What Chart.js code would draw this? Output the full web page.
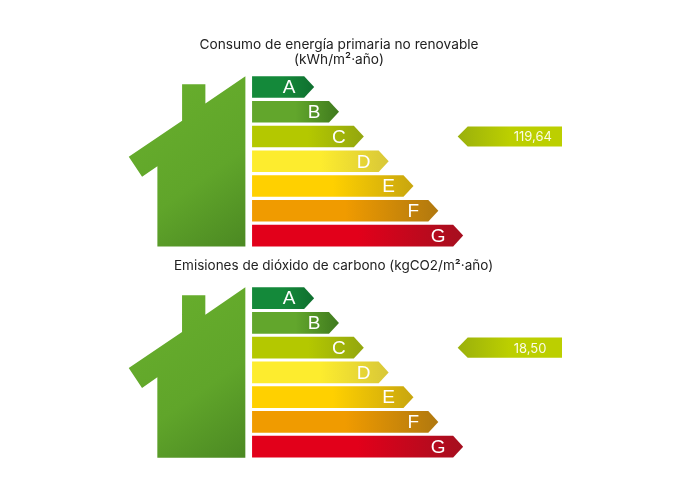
<!DOCTYPE html>
<html>
<head>
<meta charset="utf-8">
<title>Certificado energético</title>
<script src="https://cdn.jsdelivr.net/npm/chart.js@4/dist/chart.umd.min.js"></script>
<style>
	html, body { margin: 0; padding: 0; background: #fff; }
	canvas { position: absolute; }
	#energyChart { left: 116px; top: 37px; }
	#co2Chart { left: 105px; top: 259px; }
</style>
</head>
<body>
<canvas id="energyChart" width="446" height="211"></canvas>
<canvas id="co2Chart" width="457" height="200"></canvas>
<script>
var classes = ['A', 'B', 'C', 'D', 'E', 'F', 'G'];
// length of each class arrow, in class steps
var classLengths = [2.5, 3.5, 4.5, 5.5, 6.5, 7.5, 8.5];
// the axis starts below zero to leave room for the house
var energyAxisMin = -5.48;
var co2AxisMin = -5.92;
var axisMax = 12.48;
var pointerRange = [8.28, 12.48];

var energyTitle = ['Consumo de energía primaria no renovable', '(kWh/m²·año)'];
var energyClass = 'C';
var energyValue = '119,64';

var co2Title = 'Emisiones de dióxido de carbono (kgCO2/m²·año)';
var co2Class = 'C';
var co2Value = '18,50';

var classColors = [
	['#14893a', '#0f6f2f'],
	['#62a62c', '#3f7a1e'],
	['#b4c800', '#93a60f'],
	['#fdec2e', '#d8c738'],
	['#ffd000', '#c8a60f'],
	['#f09b00', '#b0780f'],
	['#e2001a', '#a50f1f']
];
var pointerColors = ['#9ab00c', '#bccf00'];

// outline of the house, in px from the top of the plot area and the start of the arrows
var houseOutline = [
	[-6.7, 1.6], [-46.7, 28.9], [-46.7, 9.6], [-70, 9.6], [-70, 46.3],
	[-123.3, 82.3], [-110, 102.3], [-94.7, 91.6], [-94.7, 171.9], [-6.7, 171.9]
];

function arrowPath(ctx, left, right, top, bottom, tipLeft) {
	var notch = 10;
	var mid = (top + bottom) / 2;
	ctx.beginPath();
	if (tipLeft) {
		ctx.moveTo(left, mid);
		ctx.lineTo(left + notch, top);
		ctx.lineTo(right, top);
		ctx.lineTo(right, bottom);
		ctx.lineTo(left + notch, bottom);
	} else {
		ctx.moveTo(left, top);
		ctx.lineTo(right - notch, top);
		ctx.lineTo(right, mid);
		ctx.lineTo(right - notch, bottom);
		ctx.lineTo(left, bottom);
	}
	ctx.closePath();
}

var energyLabelPlugin = {
	id: 'energyLabel',
	afterDatasetsDraw: function(chart) {
		var ctx = chart.ctx;
		var area = chart.chartArea;
		var zeroX = chart.scales.x.getPixelForValue(0);

		// house
		var house = ctx.createLinearGradient(zeroX - 123, area.top, zeroX, area.bottom);
		house.addColorStop(0, '#69b02d');
		house.addColorStop(0.6, '#60a52a');
		house.addColorStop(1, '#4a8722');
		ctx.save();
		ctx.beginPath();
		houseOutline.forEach(function(p, i) {
			if (i === 0) ctx.moveTo(zeroX + p[0], area.top + p[1]);
			else ctx.lineTo(zeroX + p[0], area.top + p[1]);
		});
		ctx.closePath();
		ctx.fillStyle = house;
		ctx.fill();

		// class arrows
		chart.getDatasetMeta(0).data.forEach(function(bar, i) {
			var half = bar.height / 2;
			var grad = ctx.createLinearGradient(bar.base, 0, bar.x, 0);
			grad.addColorStop(0, classColors[i][0]);
			grad.addColorStop(0.5, classColors[i][0]);
			grad.addColorStop(1, classColors[i][1]);
			arrowPath(ctx, bar.base, bar.x, bar.y - half, bar.y + half, false);
			ctx.fillStyle = grad;
			ctx.fill();
			ctx.font = '19px "Liberation Sans"';
			ctx.fillStyle = '#fff';
			ctx.textAlign = 'center';
			ctx.textBaseline = 'middle';
			ctx.fillText(classes[i], bar.x - 25, bar.y + 1);
		});

		// value pointer
		var valueText = chart.options.plugins.energyLabel.value;
		chart.getDatasetMeta(1).data.forEach(function(bar, i) {
			if (chart.data.datasets[1].data[i] === null) return;
			var half = bar.height / 2;
			var left = Math.min(bar.base, bar.x);
			var right = Math.max(bar.base, bar.x);
			var grad = ctx.createLinearGradient(left, 0, right, 0);
			grad.addColorStop(0, pointerColors[0]);
			grad.addColorStop(0.5, pointerColors[1]);
			grad.addColorStop(1, pointerColors[1]);
			arrowPath(ctx, left, right, bar.y - half, bar.y + half, true);
			ctx.fillStyle = grad;
			ctx.fill();
			ctx.font = '13px Inter';
			ctx.fillStyle = '#fbfbe6';
			ctx.textAlign = 'left';
			ctx.textBaseline = 'middle';
			ctx.fillText(valueText, left + 56, bar.y + 1);
		});
		ctx.restore();
	}
};

function drawRating(canvasId, axisMin, title, titleSize, titlePadding, ratedClass, value) {
	var pointerData = classes.map(function(c) {
		return c === ratedClass ? pointerRange : null;
	});

	new Chart(document.getElementById(canvasId).getContext('2d'), {
		type: 'bar',
		data: {
			labels: classes,
			datasets: [
				{
					data: classLengths,
					backgroundColor: 'transparent',
					grouped: false,
					categoryPercentage: 0.87,
					barPercentage: 1
				},
				{
					data: pointerData,
					backgroundColor: 'transparent',
					grouped: false,
					categoryPercentage: 0.87,
					barPercentage: 0.93
				}
			]
		},
		options: {
			indexAxis: 'y',
			responsive: false,
			animation: false,
			scales: {
				x: { display: false, min: axisMin, max: axisMax },
				y: { display: false }
			},
			plugins: {
				legend: { display: false },
				tooltip: { enabled: false },
				title: {
					display: true,
					text: title,
					color: '#222',
					font: { family: 'Inter', size: titleSize, weight: 'normal', lineHeight: 1.1 },
					padding: titlePadding
				},
				energyLabel: { value: value }
			}
		},
		plugins: [energyLabelPlugin]
	});
}

drawRating('energyChart', energyAxisMin, energyTitle, 13.7, { top: 0, bottom: 7.4 }, energyClass, energyValue);
drawRating('co2Chart', co2AxisMin, co2Title, 13.5, { top: 0, bottom: 11.9 }, co2Class, co2Value);
</script>
</body>
</html>
